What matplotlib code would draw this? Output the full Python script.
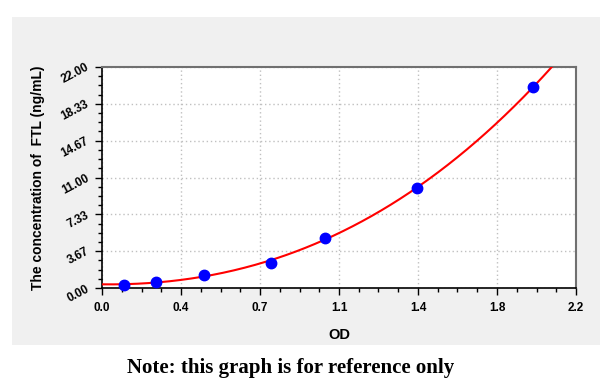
import numpy as np
import matplotlib
matplotlib.use("Agg")
import matplotlib.pyplot as plt
from matplotlib.patches import Rectangle
from matplotlib.ticker import FixedLocator, MultipleLocator

od = [0.102, 0.25, 0.475, 0.784, 1.033, 1.464, 2.001]
conc = [0.313, 0.625, 1.25, 2.5, 5.0, 10.0, 20.0]
xticks = [0.0, 2.2/6, 2*2.2/6, 3*2.2/6, 4*2.2/6, 5*2.2/6, 2.2]
xtick_labels = ["0.0", "0.4", "0.7", "1.1", "1.4", "1.8", "2.2"]
yticks = [0.0, 22/6, 2*22/6, 3*22/6, 4*22/6, 5*22/6, 22.0]
ytick_labels = ["0.00", "3.67", "7.33", "11.00", "14.67", "18.33", "22.00"]

fig = plt.figure(figsize=(6.0, 3.86), dpi=100)
fig.patch.set_facecolor("white")
fig.add_artist(Rectangle((12/600, 1-345/386), 1-12/600, (345-17)/386,
                         transform=fig.transFigure, facecolor="#f0f0f0",
                         edgecolor="none", zorder=0))

ax = fig.add_axes([102/600, 1-288/386, (576-102)/600, (288-67)/386])
ax.set_facecolor("white")

coef = np.polyfit(od, conc, 3)
xs = np.linspace(0, 2.2, 400)
ys = np.polyval(coef, xs)
ax.plot(xs, ys, color="red", lw=1.5, zorder=3, clip_on=True)
ax.plot(od, conc, "o", color="blue", ms=7.5, zorder=4, clip_on=False)

ax.set_xlim(0, 2.2)
ax.set_ylim(0, 22)
ax.xaxis.set_major_locator(FixedLocator(xticks))
ax.yaxis.set_major_locator(FixedLocator(yticks))
ax.xaxis.set_minor_locator(MultipleLocator(2.2/24))
ax.yaxis.set_minor_locator(MultipleLocator(22/24))
ax.set_xticklabels(xtick_labels, fontsize=8.5, fontweight="bold", family="Liberation Sans")
ax.set_yticklabels(ytick_labels, fontsize=8.5, fontweight="bold", family="Liberation Sans",
                   rotation=28, va="center", ha="right", rotation_mode="anchor")
ax.tick_params(axis="both", which="major", length=5, width=1, direction="out", color="black")
ax.tick_params(axis="both", which="minor", length=3, width=1, direction="out", color="black")
ax.tick_params(axis="x", pad=5)
ax.tick_params(axis="y", pad=5)
ax.grid(True, which="major", color="#c0c0c0", linestyle=(0, (1, 2)), lw=1)

for s in ["left", "bottom"]:
    ax.spines[s].set_color("black")
    ax.spines[s].set_linewidth(1.2)
for s in ["top", "right"]:
    ax.spines[s].set_color("#707070")
    ax.spines[s].set_linewidth(1.5)

ax.set_xlabel("OD", fontsize=10.5, fontweight="bold", family="Liberation Sans", labelpad=10)
ax.set_ylabel("The concentration of  FTL (ng/mL)", fontsize=10, fontweight="bold",
              family="Liberation Sans", labelpad=10)

fig.text(291/600, 1-368/386, "Note: this graph is for reference only", fontsize=15,
         fontweight="bold", family="Liberation Serif", ha="center", va="center")

fig.savefig("out.png", dpi=100, facecolor=fig.get_facecolor())
